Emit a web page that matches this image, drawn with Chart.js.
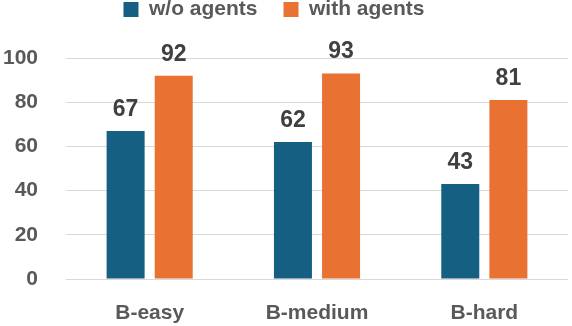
<!DOCTYPE html>
<html lang="en">
<head>
  <meta charset="UTF-8" />
  <title>Agents benchmark</title>
  <script src="https://cdn.jsdelivr.net/npm/chart.js"></script>
  <style>
    html, body { margin: 0; padding: 0; background: #fff; }
    .box { width: 572px; height: 326px; }
  </style>
</head>
<body>
  <div class="box"><canvas id="myChart" width="572" height="326"></canvas></div>

  <script>
    const categories = ['B-easy', 'B-medium', 'B-hard'];
    const seriesNames = ['w/o agents', 'with agents'];
    const withoutAgents = [67, 62, 43];
    const withAgents = [92, 93, 81];
    const yTicks = [0, 20, 40, 60, 80, 100];

    const fontFam = '"Liberation Sans", Arial, sans-serif';

    // draws the number above each bar
    const barLabels = {
      id: 'barLabels',
      afterDatasetsDraw(chart) {
        const c = chart.ctx;
        c.save();
        c.font = 'bold 23px ' + fontFam;
        c.fillStyle = '#404040';
        c.textAlign = 'center';
        c.textBaseline = 'alphabetic';
        chart.data.datasets.forEach((ds, i) => {
          chart.getDatasetMeta(i).data.forEach((bar, j) => {
            c.fillText(ds.data[j], bar.x, bar.y - 15);
          });
        });
        c.restore();
      }
    };

    // nudge the legend up and a bit left like the original
    const legendShift = {
      id: 'legendShift',
      afterLayout(chart) {
        chart.legend.left -= 11;
        chart.legend.right -= 11;
        chart.legend.top -= 28;
      }
    };

    new Chart(document.getElementById('myChart'), {
      type: 'bar',
      data: {
        labels: categories,
        datasets: [
          { label: seriesNames[0], data: withoutAgents, backgroundColor: '#156082' },
          { label: seriesNames[1], data: withAgents, backgroundColor: '#E97132' }
        ]
      },
      options: {
        responsive: false,
        animation: false,
        categoryPercentage: 0.575,
        barPercentage: 0.79,
        layout: { padding: { left: 2, right: 4, top: 1, bottom: 2 } },
        plugins: {
          legend: {
            position: 'top',
            labels: {
              font: { family: fontFam, size: 21, weight: 'bold' },
              color: '#595959',
              boxWidth: 15,
              boxHeight: 15,
              padding: 26
            }
          },
          tooltip: { enabled: false }
        },
        scales: {
          x: {
            grid: { display: false },
            border: { display: false },
            afterFit(axis) { axis.height = 45; },
            ticks: {
              font: { family: fontFam, size: 21, weight: 'bold' },
              color: '#595959',
              padding: 14
            }
          },
          y: {
            min: 0,
            max: 100,
            afterBuildTicks(axis) { axis.ticks = yTicks.map(v => ({ value: v })); },
            afterFit(axis) { axis.width = 64; },
            grid: { color: '#d9d9d9', lineWidth: 1, drawTicks: false },
            border: { display: false },
            ticks: {
              font: { family: fontFam, size: 21, weight: 'bold' },
              color: '#595959',
              padding: 28
            }
          }
        }
      },
      plugins: [barLabels, legendShift]
    });
  </script>
</body>
</html>
